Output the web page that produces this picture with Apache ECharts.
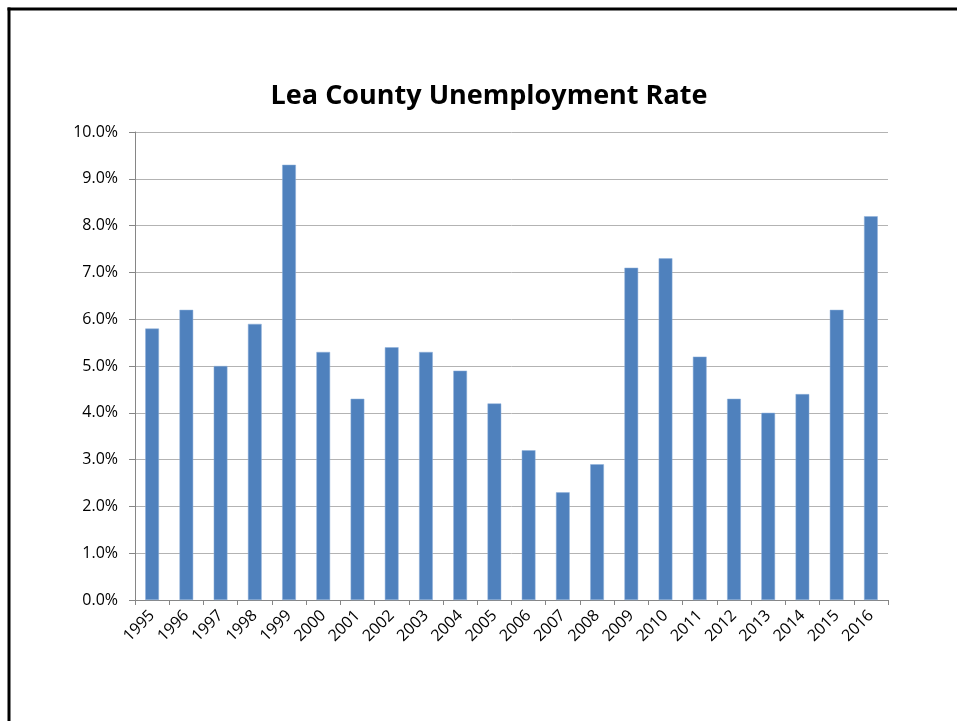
<!DOCTYPE html>
<html><head><meta charset="utf-8">
<script src="https://cdn.jsdelivr.net/npm/echarts@6/dist/echarts.min.js"></script>
<style>html,body{margin:0;padding:0;background:#fff}#c{width:957px;height:721px}</style>
</head><body><div id="c"></div>
<script>
const years = ['1995','1996','1997','1998','1999','2000','2001','2002','2003','2004','2005','2006','2007','2008','2009','2010','2011','2012','2013','2014','2015','2016'];
const rates = [5.8,6.2,5.0,5.9,9.3,5.3,4.3,5.4,5.3,4.9,4.2,3.2,2.3,2.9,7.1,7.3,5.2,4.3,4.0,4.4,6.2,8.2];
const titleText = 'Lea County Unemployment Rate';

const chart = echarts.init(document.getElementById('c'), null, {renderer:'canvas'});
chart.setOption({
  animation:false,
  backgroundColor:'#fff',
  title:{text:titleText,left:484,textAlign:'center',top:78,
    textStyle:{fontFamily:'Open Sans',fontWeight:'bold',fontSize:27,color:'#000'}},
  graphic:[
    {type:'line',shape:{x1:7.5,y1:9,x2:957,y2:9},style:{stroke:'#000',lineWidth:3}},
    {type:'line',shape:{x1:9,y1:7.5,x2:9,y2:721},style:{stroke:'#000',lineWidth:3}}
  ],
  grid:{left:135,top:132,right:69,bottom:121,containLabel:false},
  xAxis:{type:'category',data:years,
    axisLine:{lineStyle:{color:'#868686',width:1}},
    axisTick:{show:true,alignWithLabel:false,length:5,lineStyle:{color:'#868686'}},
    axisLabel:{rotate:45,fontFamily:'Open Sans',fontSize:16,color:'#000',margin:13,interval:0}},
  yAxis:{type:'value',min:0,max:10,interval:1,
    axisLine:{show:true,lineStyle:{color:'#868686'}},
    axisTick:{show:true,length:6,inside:false,lineStyle:{color:'#868686'}},
    splitLine:{lineStyle:{color:'#b3b3b3',width:1}},
    axisLabel:{formatter:v=>v.toFixed(1)+'%',fontFamily:'Open Sans',fontSize:16,color:'#000',margin:17}},
  series:[{type:'bar',data:rates,barWidth:'40%',
    itemStyle:{color:'#4f81bd',borderColor:'#8eb0db',borderWidth:0.5}}]
});
</script></body></html>
